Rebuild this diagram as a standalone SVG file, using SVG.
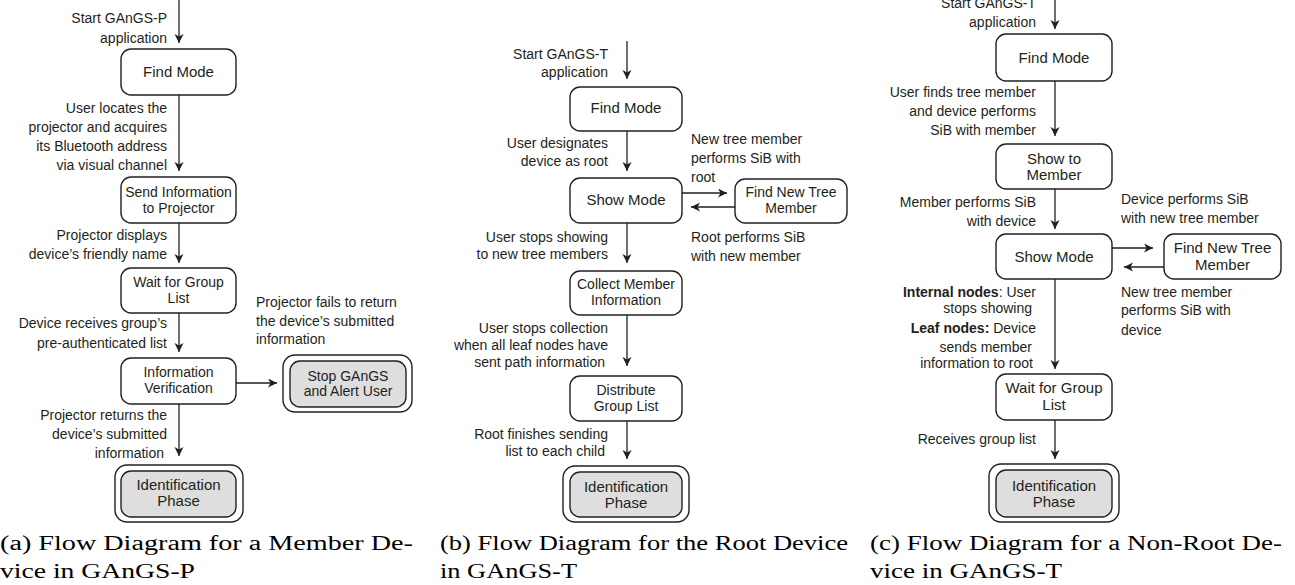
<svg xmlns="http://www.w3.org/2000/svg" width="1295" height="585" viewBox="0 0 1295 585">
<style>
text{font-family:"Liberation Sans",Arial,sans-serif;font-size:14px;fill:#231f20}
.c{text-anchor:middle}
.r{text-anchor:end}
.big{font-size:15px}
.box{fill:#fff;stroke:#231f20;stroke-width:1.4}
.gray{fill:#dedede;stroke:#231f20;stroke-width:1.4}
.edge{stroke:#231f20;stroke-width:1.3;fill:none;marker-end:url(#ah)}
.cap{font-family:"Liberation Serif","Times New Roman",serif;font-size:20px;fill:#000}
.b{font-weight:bold}
</style>
<defs>
<marker id="ah" markerUnits="userSpaceOnUse" markerWidth="10" markerHeight="10" refX="9" refY="4.5" orient="auto">
<path d="M0,0 L9,4.5 L0,9 L2.5,4.5 z" fill="#231f20"/>
</marker>
</defs>

<g id="connectors">
<line class="edge" x1="179" y1="0" x2="179" y2="43"/>
<line class="edge" x1="179" y1="95" x2="179" y2="171"/>
<line class="edge" x1="179" y1="223" x2="179" y2="263"/>
<line class="edge" x1="179" y1="313" x2="179" y2="352"/>
<line class="edge" x1="236" y1="383" x2="277" y2="383"/>
<line class="edge" x1="179" y1="404" x2="179" y2="456"/>
<line class="edge" x1="627" y1="41" x2="627" y2="79"/>
<line class="edge" x1="627" y1="131" x2="627" y2="171"/>
<line class="edge" x1="682" y1="193" x2="727" y2="193"/>
<line class="edge" x1="735" y1="207" x2="691" y2="207"/>
<line class="edge" x1="627" y1="223" x2="627" y2="263"/>
<line class="edge" x1="627" y1="315" x2="627" y2="366"/>
<line class="edge" x1="627" y1="421" x2="627" y2="459"/>
<line class="edge" x1="1055" y1="0" x2="1055" y2="29"/>
<line class="edge" x1="1055" y1="81" x2="1055" y2="136"/>
<line class="edge" x1="1055" y1="189" x2="1055" y2="229"/>
<line class="edge" x1="1112" y1="248" x2="1153" y2="248"/>
<line class="edge" x1="1164" y1="267" x2="1124" y2="267"/>
<line class="edge" x1="1055" y1="279" x2="1055" y2="369"/>
<line class="edge" x1="1055" y1="420" x2="1055" y2="459"/>
</g>

<g id="labels-a">
<text class="r" x="167" y="23">Start GAnGS-P</text>
<text class="r" x="167" y="43">application</text>
<text class="r" x="167" y="113">User locates the</text>
<text class="r" x="167" y="132">projector and acquires</text>
<text class="r" x="167" y="151">its Bluetooth address</text>
<text class="r" x="167" y="170">via visual channel</text>
<text class="r" x="167" y="240">Projector displays</text>
<text class="r" x="167" y="259">device’s friendly name</text>
<text class="r" x="167" y="328">Device receives group’s</text>
<text class="r" x="167" y="348">pre-authenticated list</text>
<text x="256" y="307">Projector fails to return</text>
<text x="256" y="326">the device’s submitted</text>
<text x="256" y="344">information</text>
<text class="r" x="167" y="420">Projector returns the</text>
<text class="r" x="167" y="439">device’s submitted</text>
<text class="r" x="164" y="458">information</text>
</g>

<g id="a-find">
<rect class="box" x="121" y="49" width="115" height="46" rx="10"/>
<text class="c big" x="178.5" y="77">Find Mode</text>
</g>
<g id="a-send">
<rect class="box" x="121" y="177" width="115" height="46" rx="10"/>
<text class="c" x="178.5" y="197">Send Information</text>
<text class="c" x="178.5" y="213">to Projector</text>
</g>
<g id="a-wait">
<rect class="box" x="121" y="268" width="115" height="45" rx="10"/>
<text class="c" x="178.5" y="287">Wait for Group</text>
<text class="c" x="178.5" y="303">List</text>
</g>
<g id="a-verify">
<rect class="box" x="121" y="358" width="115" height="46" rx="10"/>
<text class="c" x="178.5" y="377">Information</text>
<text class="c" x="178.5" y="393">Verification</text>
</g>
<g id="a-stop">
<rect class="box" x="283" y="355" width="129" height="57" rx="12"/>
<rect class="gray" x="290" y="361" width="116" height="46" rx="10"/>
<text class="c" x="348" y="381">Stop GAnGS</text>
<text class="c" x="348" y="396">and Alert User</text>
</g>
<g id="a-ident">
<rect class="box" x="115" y="465" width="128" height="57" rx="12"/>
<rect class="gray" x="121" y="471" width="115" height="46" rx="10"/>
<text class="c big" x="178.5" y="490">Identification</text>
<text class="c big" x="178.5" y="506">Phase</text>
</g>

<g id="labels-b">
<text class="r" x="608" y="59">Start GAnGS-T</text>
<text class="r" x="608" y="77">application</text>
<text class="r" x="608" y="148">User designates</text>
<text class="r" x="608" y="166">device as root</text>
<text x="691" y="144">New tree member</text>
<text x="691" y="163">performs SiB with</text>
<text x="691" y="182">root</text>
<text x="691" y="242">Root performs SiB</text>
<text x="691" y="261">with new member</text>
<text class="r" x="608" y="242">User stops showing</text>
<text class="r" x="608" y="259">to new tree members</text>
<text class="r" x="608" y="333">User stops collection</text>
<text class="r" x="608" y="350">when all leaf nodes have</text>
<text class="r" x="605" y="367">sent path information</text>
<text class="r" x="608" y="439">Root finishes sending</text>
<text class="r" x="605" y="456">list to each child</text>
</g>

<g id="b-find">
<rect class="box" x="570" y="87" width="112" height="44" rx="10"/>
<text class="c big" x="626" y="113">Find Mode</text>
</g>
<g id="b-show">
<rect class="box" x="570" y="178" width="112" height="45" rx="10"/>
<text class="c big" x="626" y="205">Show Mode</text>
</g>
<g id="b-findnew">
<rect class="box" x="735" y="179" width="112" height="44" rx="10"/>
<text class="c" x="791" y="197">Find New Tree</text>
<text class="c" x="791" y="213">Member</text>
</g>
<g id="b-collect">
<rect class="box" x="570" y="271" width="112" height="44" rx="10"/>
<text class="c" x="626" y="289">Collect Member</text>
<text class="c" x="626" y="305">Information</text>
</g>
<g id="b-distribute">
<rect class="box" x="570" y="376" width="112" height="45" rx="10"/>
<text class="c" x="626" y="395">Distribute</text>
<text class="c" x="626" y="411">Group List</text>
</g>
<g id="b-ident">
<rect class="box" x="563" y="466" width="126" height="56" rx="12"/>
<rect class="gray" x="570" y="472" width="112" height="45" rx="10"/>
<text class="c big" x="626" y="492">Identification</text>
<text class="c big" x="626" y="508">Phase</text>
</g>

<g id="labels-c">
<text class="r" x="1036" y="8">Start GAnGS-T</text>
<text class="r" x="1036" y="27">application</text>
<text class="r" x="1036" y="97">User finds tree member</text>
<text class="r" x="1036" y="116">and device performs</text>
<text class="r" x="1036" y="135">SiB with member</text>
<text class="r" x="1036" y="207">Member performs SiB</text>
<text class="r" x="1036" y="226">with device</text>
<text x="1121" y="204">Device performs SiB</text>
<text x="1121" y="223">with new tree member</text>
<text x="1121" y="297">New tree member</text>
<text x="1121" y="315">performs SiB with</text>
<text x="1121" y="335">device</text>
<text class="r" x="1036" y="297"><tspan class="b">Internal nodes</tspan>: User</text>
<text class="r" x="1032" y="313">stops showing</text>
<text class="r" x="1036" y="333"><tspan class="b">Leaf nodes:</tspan> Device</text>
<text class="r" x="1032" y="352">sends member</text>
<text class="r" x="1033" y="368">information to root</text>
<text class="r" x="1036" y="444">Receives group list</text>
</g>

<g id="c-find">
<rect class="box" x="996" y="34" width="116" height="47" rx="10"/>
<text class="c big" x="1054" y="63">Find Mode</text>
</g>
<g id="c-showto">
<rect class="box" x="996" y="144" width="116" height="45" rx="10"/>
<text class="c big" x="1054" y="164">Show to</text>
<text class="c big" x="1054" y="180">Member</text>
</g>
<g id="c-show">
<rect class="box" x="996" y="234" width="116" height="45" rx="10"/>
<text class="c big" x="1054" y="262">Show Mode</text>
</g>
<g id="c-findnew">
<rect class="box" x="1164" y="234" width="117" height="45" rx="10"/>
<text class="c big" x="1222.5" y="253">Find New Tree</text>
<text class="c big" x="1222.5" y="270">Member</text>
</g>
<g id="c-wait">
<rect class="box" x="996" y="374" width="116" height="46" rx="10"/>
<text class="c big" x="1054" y="393">Wait for Group</text>
<text class="c big" x="1054" y="410">List</text>
</g>
<g id="c-ident">
<rect class="box" x="989" y="464" width="130" height="58" rx="12"/>
<rect class="gray" x="996" y="470" width="116" height="47" rx="10"/>
<text class="c big" x="1054" y="491">Identification</text>
<text class="c big" x="1054" y="507">Phase</text>
</g>

<g id="captions">
<text class="cap" x="0" y="550" textLength="413" lengthAdjust="spacingAndGlyphs">(a) Flow Diagram for a Member De-</text>
<text class="cap" x="0" y="578" textLength="195" lengthAdjust="spacingAndGlyphs">vice in GAnGS-P</text>
<text class="cap" x="440" y="550" textLength="408" lengthAdjust="spacingAndGlyphs">(b) Flow Diagram for the Root Device</text>
<text class="cap" x="440" y="578" textLength="137" lengthAdjust="spacingAndGlyphs">in GAnGS-T</text>
<text class="cap" x="870" y="550" textLength="412" lengthAdjust="spacingAndGlyphs">(c) Flow Diagram for a Non-Root De-</text>
<text class="cap" x="870" y="578" textLength="192" lengthAdjust="spacingAndGlyphs">vice in GAnGS-T</text>
</g>
</svg>
